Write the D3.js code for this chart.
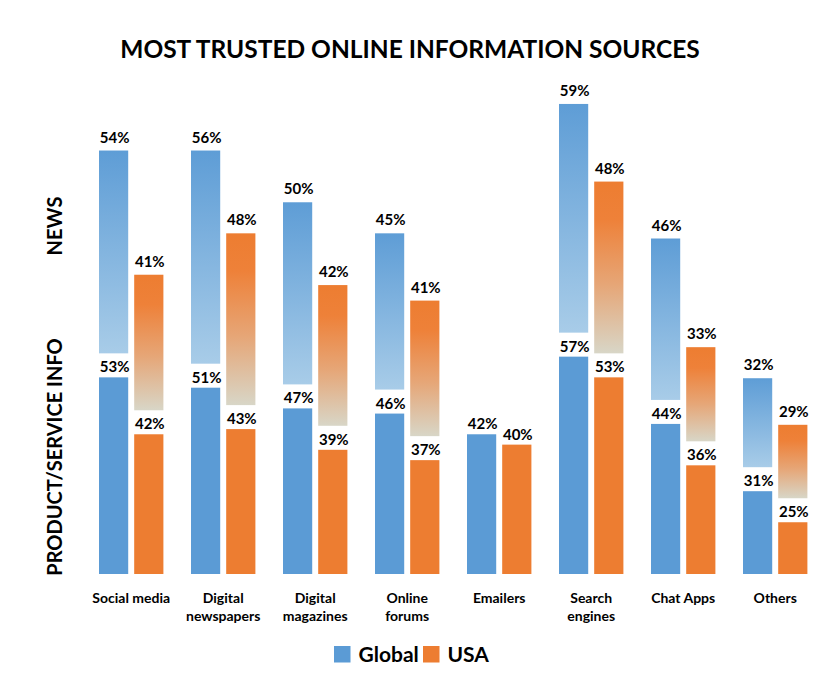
<!DOCTYPE html>
<html>
<head>
<meta charset="utf-8">
<script src="https://cdn.jsdelivr.net/npm/d3@7"></script>
<style>
  html, body { margin: 0; padding: 0; background: #fff; }
  svg { display: block; }
  text { font-family: Lato, "Open Sans", sans-serif; font-weight: bold; fill: #000; }
</style>
</head>
<body>
<svg id="chart" width="820" height="689"></svg>
<script>
// ---- data ----
const categories = ["Social media", "Digital newspapers", "Digital magazines", "Online forums", "Emailers", "Search engines", "Chat Apps", "Others"];
const categoryLines = [["Social media"], ["Digital", "newspapers"], ["Digital", "magazines"], ["Online", "forums"], ["Emailers"], ["Search", "engines"], ["Chat Apps"], ["Others"]];
const series = ["Global", "USA"];
const newsGlobal = [54, 56, 50, 45, null, 59, 46, 32];
const newsUSA = [41, 48, 42, 41, null, 48, 33, 29];
const productGlobal = [53, 51, 47, 46, 42, 57, 44, 31];
const productUSA = [42, 43, 39, 37, 40, 53, 36, 25];
const titleText = "MOST TRUSTED ONLINE INFORMATION SOURCES";
const newsLabel = "NEWS";
const productLabel = "PRODUCT/SERVICE INFO";

// ---- layout ----
const svg = d3.select("#chart");
const baseY = 574;
const y = d3.scaleLinear().domain([15, 60]).range([baseY, baseY - 45 * 5.175]);
const x = d3.scaleBand().domain(categories).range([80.6, 825.8]).paddingInner(0.3).paddingOuter(0.2);
const xs = d3.scaleBand().domain(series).range([0, x.bandwidth()]).paddingInner(0.17);
const colors = { Global: "#5B9BD5", USA: "#ED7D31" };
const newsGap = 24;

// gradients
const defs = svg.append("defs");
const gb = defs.append("linearGradient").attr("id", "gGlobal").attr("x1", 0).attr("y1", 0).attr("x2", 0).attr("y2", 1);
gb.append("stop").attr("offset", 0).attr("stop-color", "#5E9DD6");
gb.append("stop").attr("offset", 1).attr("stop-color", "#A8CCE8");
const go = defs.append("linearGradient").attr("id", "gUSA").attr("x1", 0).attr("y1", 0).attr("x2", 0).attr("y2", 1);
go.append("stop").attr("offset", 0).attr("stop-color", "#ED7D31");
go.append("stop").attr("offset", 0.22).attr("stop-color", "#EE8139");
go.append("stop").attr("offset", 0.6).attr("stop-color", "#E6A677");
go.append("stop").attr("offset", 1).attr("stop-color", "#D8D6C7");

// build records
const records = [];
categories.forEach((c, i) => {
  records.push({ cat: c, s: "Global", news: newsGlobal[i], prod: productGlobal[i] });
  records.push({ cat: c, s: "USA", news: newsUSA[i], prod: productUSA[i] });
});

const g = svg.append("g");

// product bars
g.selectAll("rect.prod").data(records).join("rect")
  .attr("class", "prod")
  .attr("x", d => x(d.cat) + xs(d.s))
  .attr("width", xs.bandwidth())
  .attr("y", d => y(d.prod))
  .attr("height", d => y(15) - y(d.prod))
  .attr("fill", d => colors[d.s]);

// news bars (floating above product bars)
const newsRec = records.filter(d => d.news != null);
function newsBottom(d) { return y(d.prod) - newsGap; }
function newsTop(d) { return newsBottom(d) - (y(15) - y(d.news)) - 1; }
g.selectAll("rect.news").data(newsRec).join("rect")
  .attr("class", "news")
  .attr("x", d => x(d.cat) + xs(d.s))
  .attr("width", xs.bandwidth())
  .attr("y", d => newsTop(d))
  .attr("height", d => newsBottom(d) - newsTop(d))
  .attr("fill", d => d.s === "Global" ? "url(#gGlobal)" : "url(#gUSA)");

// value labels
g.selectAll("text.pl").data(records).join("text")
  .attr("class", "pl")
  .attr("x", d => x(d.cat) + xs(d.s) + xs.bandwidth() / 2 + 1)
  .attr("y", d => y(d.prod) - 5)
  .attr("text-anchor", "middle")
  .attr("font-size", 15)
  .text(d => d.prod + "%");

g.selectAll("text.nl").data(newsRec).join("text")
  .attr("class", "nl")
  .attr("x", d => x(d.cat) + xs(d.s) + xs.bandwidth() / 2 + 1)
  .attr("y", d => newsTop(d) - 8)
  .attr("text-anchor", "middle")
  .attr("font-size", 15)
  .text(d => d.news + "%");

// category labels
categories.forEach((c, i) => {
  const t = svg.append("text")
    .attr("x", x(c) + x.bandwidth() / 2)
    .attr("y", 603)
    .attr("text-anchor", "middle")
    .attr("font-size", 14);
  categoryLines[i].forEach((line, j) => {
    t.append("tspan").attr("x", x(c) + x.bandwidth() / 2).attr("dy", j === 0 ? 0 : 18).text(line);
  });
});

// title
const title = svg.append("text")
  .attr("x", 410).attr("y", 58)
  .attr("text-anchor", "middle")
  .attr("font-size", 20)
  .text(titleText);
const tw = title.node().getComputedTextLength();
let fs = 20 * 580 / tw;
fs = Math.max(19, Math.min(25, fs));
title.attr("font-size", fs);

// axis-side labels
svg.append("text")
  .attr("transform", "translate(62,226) rotate(-90)")
  .attr("text-anchor", "middle")
  .attr("font-size", 20)
  .text(newsLabel);
svg.append("text")
  .attr("transform", "translate(62,457) rotate(-90)")
  .attr("text-anchor", "middle")
  .attr("font-size", 20)
  .text(productLabel);

// legend
const legend = svg.append("g");
const legX = [334, 423];
series.forEach((s, i) => {
  legend.append("rect").attr("x", legX[i]).attr("y", 646).attr("width", 16.5).attr("height", 16.5).attr("fill", colors[s]);
  legend.append("text").attr("x", legX[i] + 24.5).attr("y", 662).attr("font-size", 21).text(s);
});
</script>
</body>
</html>
